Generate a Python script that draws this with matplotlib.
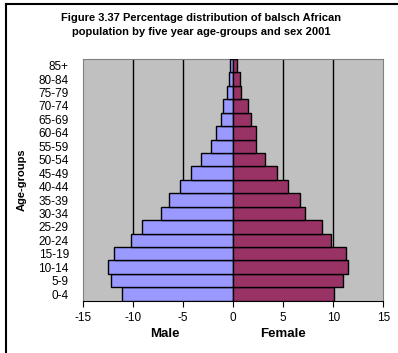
import numpy as np
import matplotlib
matplotlib.use('Agg')
import matplotlib.pyplot as plt
from matplotlib.lines import Line2D

plt.rcParams['font.family'] = ['Liberation Sans', 'DejaVu Sans']
plt.rcParams['axes.unicode_minus'] = False

age_groups = ['0-4', '5-9', '10-14', '15-19', '20-24', '25-29', '30-34', '35-39',
              '40-44', '45-49', '50-54', '55-59', '60-64', '65-69', '70-74',
              '75-79', '80-84', '85+']
male = [11.1, 12.2, 12.5, 11.9, 10.2, 9.1, 7.2, 6.4, 5.3, 4.2, 3.2, 2.2, 1.7,
        1.2, 1.0, 0.6, 0.4, 0.3]
female = [10.1, 11.0, 11.5, 11.3, 9.8, 8.9, 7.2, 6.7, 5.5, 4.4, 3.2, 2.3, 2.3,
          1.8, 1.5, 0.8, 0.7, 0.4]
xticks = [-15, -10, -5, 0, 5, 10, 15]

fig = plt.figure(figsize=(3.98, 3.53), dpi=100)
ax = fig.add_axes([0.2078, 0.148, 0.7554, 0.685])
ax.set_facecolor('#C0C0C0')

y = np.arange(len(age_groups))
ax.barh(y, [-v for v in male], height=1.0, color='#9999FF', edgecolor='black', linewidth=1, zorder=3)
ax.barh(y, female, height=1.0, color='#993366', edgecolor='black', linewidth=1, zorder=3)

for g in [-10, -5, 5, 10]:
    ax.axvline(g, color='black', linewidth=1, zorder=1)

ax.set_xlim(-15, 15)
ax.set_ylim(-0.5, len(age_groups) - 0.5)
ax.set_xticks(xticks)
ax.set_xticklabels([str(t) for t in xticks], fontsize=8.5)
ax.set_yticks(y)
ax.set_yticklabels(age_groups, fontsize=8.5)
ax.tick_params(axis='y', length=0, pad=10)
ax.tick_params(axis='x', direction='out', length=4, pad=4)

for s in ['top', 'right', 'left']:
    ax.spines[s].set_color('#808080')
ax.spines['bottom'].set_color('black')

# centre axis with ticks at zero
sec = ax.secondary_yaxis(0.5)
sec.set_yticks(y)
sec.set_yticklabels([])
sec.tick_params(direction='out', length=3, width=1)
sec.spines['left'].set_linewidth(1.2)

ax.set_ylabel('Age-groups', fontsize=8, fontweight='bold')
ax.yaxis.set_label_coords(-0.185, 0.5)
fig.text(0.415, 0.054, 'Male', ha='center', va='center', fontsize=9.5, fontweight='bold')
fig.text(0.712, 0.054, 'Female', ha='center', va='center', fontsize=9.5, fontweight='bold')

fig.text(0.505, 0.928, 'Figure 3.37 Percentage distribution of balsch African\npopulation by five year age-groups and sex 2001',
         ha='center', va='center', fontsize=8, fontweight='bold', linespacing=1.5)

# outer chart frame (only top and left edges visible)
fig.add_artist(Line2D([0.016, 0.016], [0.0, 0.988], transform=fig.transFigure, color='black', linewidth=1.5))
fig.add_artist(Line2D([0.016, 1.0], [0.988, 0.988], transform=fig.transFigure, color='black', linewidth=1.5))

fig.savefig('out.png', dpi=100)
